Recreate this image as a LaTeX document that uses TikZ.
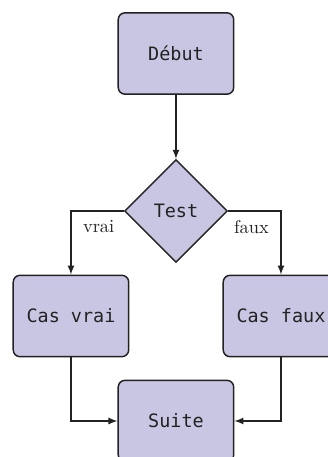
\documentclass[tikz,border=0pt]{standalone}
\usepackage{fontspec}
\setmonofont{DejaVu Sans Mono}
\usetikzlibrary{shapes.geometric,positioning}
\definecolor{colorbox}{HTML}{C8C6E3}
\definecolor{colorline}{HTML}{222222}
\tikzset{
  bloc/.style={draw=colorline, fill=colorbox, line width=0.8pt, rounded corners=1.3mm,
    minimum width=2.2cm, minimum height=1.55cm, font=\ttfamily, text=colorline},
  choix/.style={draw=colorline, fill=colorbox, line width=0.8pt, diamond, aspect=1,
    minimum size=1.96cm, inner sep=0pt, font=\ttfamily, text=colorline},
  edgeflow/.style={colorline, line width=0.7pt, -latex},
  lbl/.style={text=colorline}
}
\begin{document}
\begin{tikzpicture}
\useasboundingbox (-3.352,-7.686) rectangle (2.895,1.019);
\node[bloc] (deb) at (0,0) {Début};
\node[choix] (test) at (0,-3) {Test};
\node[bloc] (cv) at (-2,-5) {Cas vrai};
\node[bloc] (cf) at (2,-5) {Cas faux};
\node[bloc] (suite) at (0,-7) {Suite};
\draw[edgeflow] (deb) -- (test);
\draw[edgeflow] (test.west) -| node[lbl, pos=0.625, right, xshift=1mm] (lv) {vrai} (cv.north);
\draw[edgeflow] (test.east) -| node[lbl, pos=0.625, left, xshift=-1mm] (lf) {faux} (cf.north);
\draw[edgeflow] (cv.south) |- (suite.west);
\draw[edgeflow] (cf.south) |- (suite.east);
\end{tikzpicture}
\end{document}
